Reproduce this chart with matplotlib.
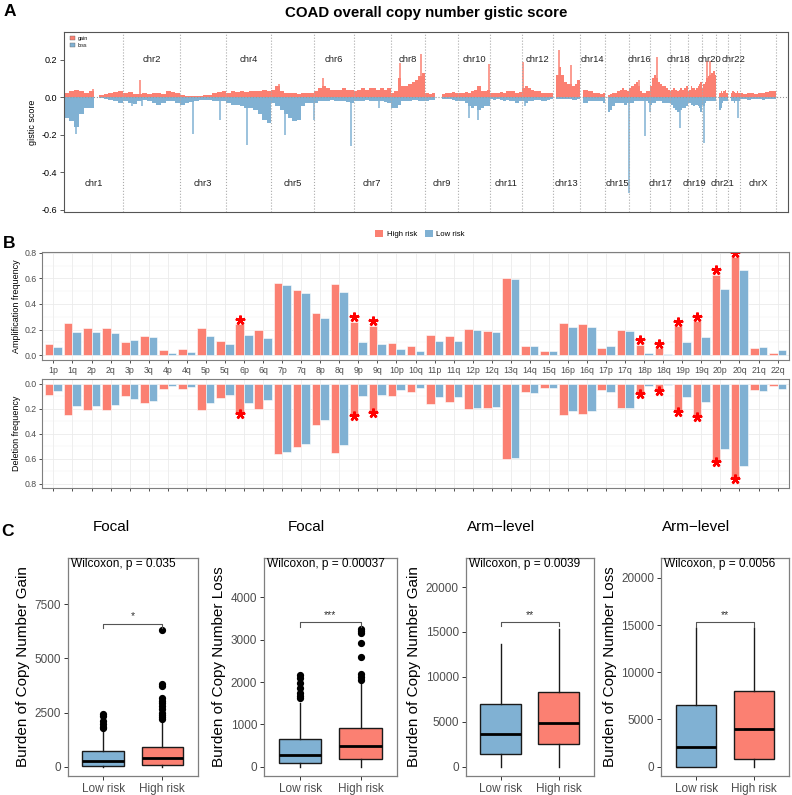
import numpy as np
import matplotlib.pyplot as plt
from matplotlib.patches import Patch
from matplotlib.ticker import FormatStrFormatter, MultipleLocator

plt.rcParams['font.family'] = ['Liberation Sans', 'DejaVu Sans']
plt.rcParams['axes.unicode_minus'] = False

W, H = 792, 795
RED = '#FB8072'
BLUE = '#80B1D3'

# ==============================================================================
# A: genome-wide gistic score (values read per chromosome, evenly spaced bins)
# ==============================================================================
chroms = [str(i) for i in range(1, 23)] + ['X']
chrom_len = [249.3, 243.2, 198.0, 191.2, 180.9, 171.1, 159.1, 146.4, 141.2, 135.5, 135.0,
             133.9, 115.2, 107.3, 102.5, 90.4, 81.2, 78.1, 59.1, 63.0, 48.1, 51.3, 155.3]

gain_bins = [
    [0.02, 0.03, 0.04, 0.03, 0.02, 0.03, 0, 0.01, 0.015, 0.02, 0.025, 0.03],
    [0.02, 0.025, 0.015, 0.015, 0.02, 0.015, 0.02, 0.02, 0.015, 0.03, 0.025, 0.02],
    [0.01, 0.005, 0.005, 0.005, 0.005, 0.01, 0.01, 0.02, 0.025, 0.03],
    [0.02, 0.03, 0.025, 0.03, 0.025, 0.03, 0.035, 0.03, 0.04, 0.03],
    [0.04, 0.06, 0.03, 0.02, 0.02, 0.02, 0.015, 0.02, 0.02, 0.02],
    [0.03, 0.05, 0.06, 0.05, 0.04, 0.04, 0.04, 0.05, 0.04, 0.04],
    [0.03, 0.04, 0.05, 0.04, 0.05, 0.05, 0.04, 0.05, 0.04, 0.05],
    [0.02, 0.03, 0.10, 0.06, 0.06, 0.07, 0.08, 0.09, 0.11, 0.13],
    [0.02, 0.015, 0.02, 0, 0, 0.015, 0.02, 0.02, 0.025, 0.02],
    [0.02, 0.02, 0.025, 0.02, 0.03, 0.04, 0.06, 0.03, 0.03, 0.04],
    [0.02, 0.02, 0.02, 0.025, 0.02, 0.03, 0.03, 0.035, 0.02, 0.025],
    [0.05, 0.06, 0.05, 0.04, 0.03, 0.03, 0.02, 0.02, 0.02, 0.02],
    [0, 0.12, 0.16, 0.12, 0.08, 0.07, 0.07, 0.06, 0.07, 0.09],
    [0, 0.04, 0.04, 0.035, 0.03, 0.02, 0.02, 0.02, 0.015, 0.02],
    [0, 0.01, 0.015, 0.02, 0.02, 0.03, 0.04, 0.05, 0.04, 0.03],
    [0.05, 0.06, 0.07, 0.08, 0.06, 0.03, 0.02, 0.02, 0.03, 0.03],
    [0.06, 0.10, 0.12, 0.10, 0.08, 0.07, 0.06, 0.06, 0.05, 0.04],
    [0.03, 0.04, 0.05, 0.04, 0.03, 0.04, 0.05, 0.04, 0.05, 0.06],
    [0.03, 0.04, 0.06, 0.05, 0.05, 0.04, 0.05, 0.06, 0.07, 0.08],
    [0.05, 0.07, 0.08, 0.10, 0.11, 0.12, 0.13, 0.13, 0.14, 0.12],
    [0, 0, 0.02, 0.03, 0.02, 0.03, 0.04, 0.02],
    [0, 0, 0.02, 0.03, 0.025, 0.02, 0.03, 0.02],
    [0.02, 0.015, 0.02, 0.02, 0.015, 0.02, 0.02, 0.025, 0.03, 0.035],
]
loss_bins = [
    [-0.11, -0.13, -0.16, -0.09, -0.06, -0.06, 0, -0.005, -0.01, -0.015, -0.02, -0.03],
    [-0.02, -0.03, -0.035, -0.02, -0.015, -0.02, -0.03, -0.04, -0.03, -0.02, -0.02, -0.03],
    [-0.04, -0.03, -0.025, -0.02, -0.015, -0.015, -0.015, -0.02, -0.02, -0.02],
    [-0.03, -0.04, -0.04, -0.05, -0.06, -0.06, -0.07, -0.09, -0.12, -0.14],
    [-0.03, -0.05, -0.07, -0.09, -0.11, -0.13, -0.12, -0.05, -0.03, -0.03],
    [-0.03, -0.02, -0.02, -0.02, -0.015, -0.02, -0.02, -0.02, -0.025, -0.03],
    [-0.02, -0.02, -0.02, -0.015, -0.02, -0.02, -0.02, -0.02, -0.025, -0.03],
    [-0.06, -0.06, -0.04, -0.02, -0.02, -0.02, -0.015, -0.015, -0.02, -0.02],
    [-0.02, -0.015, -0.015, 0, 0, -0.01, -0.01, -0.01, -0.015, -0.02],
    [-0.02, -0.02, -0.03, -0.05, -0.06, -0.05, -0.07, -0.06, -0.05, -0.05],
    [-0.01, -0.015, -0.01, -0.015, -0.02, -0.015, -0.02, -0.02, -0.03, -0.02],
    [-0.02, -0.03, -0.02, -0.02, -0.015, -0.015, -0.02, -0.02, -0.015, -0.01],
    [0, -0.01, -0.01, -0.01, -0.01, -0.01, -0.01, -0.015, -0.015, -0.01],
    [0, -0.03, -0.03, -0.02, -0.02, -0.02, -0.02, -0.02, -0.02, -0.03],
    [0, -0.08, -0.07, -0.05, -0.03, -0.03, -0.03, -0.03, -0.04, -0.03],
    [-0.03, -0.03, -0.02, -0.02, -0.02, -0.02, -0.02, -0.02, -0.02, -0.03],
    [-0.04, -0.03, -0.03, -0.02, -0.02, -0.02, -0.03, -0.03, -0.03, -0.03],
    [-0.03, -0.04, -0.06, -0.07, -0.08, -0.08, -0.07, -0.06, -0.06, -0.05],
    [-0.03, -0.03, -0.04, -0.04, -0.05, -0.04, -0.04, -0.05, -0.06, -0.08],
    [-0.04, -0.05, -0.03, -0.02, -0.02, -0.02, -0.02, -0.02, -0.02, -0.02],
    [0, 0, -0.07, -0.06, -0.03, -0.02, -0.02, -0.02],
    [0, 0, -0.02, -0.02, -0.03, -0.02, -0.02, -0.02],
    [-0.01, -0.01, -0.015, -0.01, -0.01, -0.01, -0.015, -0.01, -0.01, -0.01],
]

# narrow peaks: chromosome, position (Mb), score
gain_peak_chr = ['1', '2', '5', '6', '8', '8', '10', '12', '13', '13', '16', '17', '20', '20']
gain_peak_mb = [120, 73, 32, 38, 38, 127, 129, 4, 24, 75, 41, 29, 23, 37]
gain_peak_val = [0.042, 0.09, 0.07, 0.10, 0.18, 0.23, 0.175, 0.185, 0.25, 0.17, 0.09, 0.215, 0.19, 0.19]
loss_peak_chr = ['1', '2', '2', '3', '3', '4', '5', '6', '6', '7', '10', '10', '12', '15',
                 '16', '16', '18', '20', '22']
loss_peak_mb = [49, 40, 79, 57, 170, 88, 57, 2, 159, 109, 47, 83, 13, 100, 69, 89, 45, 11, 43]
loss_peak_val = [-0.195, -0.05, -0.05, -0.196, -0.12, -0.258, -0.2, -0.12, -0.26, -0.06,
                 -0.11, -0.12, -0.05, -0.51, -0.21, -0.08, -0.164, -0.247, -0.114]

# ==============================================================================
# B: arm-level frequencies
# ==============================================================================
arms = ['1p', '1q', '2p', '2q', '3p', '3q', '4p', '4q', '5p', '5q', '6p', '6q', '7p', '7q',
        '8p', '8q', '9p', '9q', '10p', '10q', '11p', '11q', '12p', '12q', '13q', '14q',
        '15q', '16p', '16q', '17p', '17q', '18p', '18q', '19p', '19q', '20p', '20q', '21q', '22q']
amp_high = [0.09, 0.25, 0.21, 0.21, 0.10, 0.15, 0.04, 0.045, 0.21, 0.11, 0.24, 0.20, 0.56,
            0.51, 0.33, 0.555, 0.26, 0.23, 0.096, 0.068, 0.158, 0.148, 0.203, 0.192, 0.605,
            0.068, 0.031, 0.25, 0.242, 0.052, 0.195, 0.08, 0.055, 0.226, 0.265, 0.63, 0.766,
            0.052, 0.02]
amp_low = [0.06, 0.18, 0.18, 0.17, 0.12, 0.14, 0.02, 0.025, 0.15, 0.09, 0.155, 0.13, 0.55,
           0.485, 0.29, 0.49, 0.10, 0.09, 0.047, 0.031, 0.109, 0.109, 0.195, 0.182, 0.595,
           0.073, 0.031, 0.22, 0.216, 0.068, 0.19, 0.015, 0.008, 0.106, 0.145, 0.52, 0.662,
           0.06, 0.039]
# the deletion panel shows the same bar heights as the amplification panel
del_high = list(amp_high)
del_low = list(amp_low)
sig_arms = ['6p', '9p', '9q', '18p', '18q', '19p', '19q', '20p', '20q']

# ==============================================================================
# C: burden boxplots  (whislo, q1, median, q3, whishi)
# ==============================================================================
groups = ['Low risk', 'High risk']
focal_gain_low = [0, 30, 276, 721, 1700]
focal_gain_high = [0, 77, 414, 890, 2100]
focal_gain_low_out = [1800, 1850, 1960, 2090, 2330, 2420]
focal_gain_high_out = [2200, 2300, 2400, 2500, 2650, 2800, 2950, 3050, 3170, 3710, 3800, 6300]
focal_loss_low = [0, 79, 276, 655, 1500]
focal_loss_high = [0, 174, 489, 907, 2000]
focal_loss_low_out = [1620, 1660, 1740, 1870, 1970, 2090, 2170]
focal_loss_high_out = [2050, 2110, 2190, 2600, 2920, 3150, 3200, 3250]
arm_gain_low = [0, 1375, 3605, 6950, 13680]
arm_gain_high = [0, 2490, 4830, 8360, 15310]
arm_loss_low = [0, 0, 2120, 6510, 14690]
arm_loss_high = [0, 850, 3965, 8035, 14690]
p_texts = ['Wilcoxon, p = 0.035', 'Wilcoxon, p = 0.00037', 'Wilcoxon, p = 0.0039', 'Wilcoxon, p = 0.0056']
sig_marks = ['*', '***', '**', '**']


def rect(l, t, r, b):
    return [l / W, 1 - b / H, (r - l) / W, (b - t) / H]


fig = plt.figure(figsize=(W / 100, H / 100), dpi=100)

# ------------------------------------------------------------------ panel A
ax = fig.add_axes(rect(64, 32, 788, 212))
offsets = np.concatenate([[0], np.cumsum(chrom_len)])
for i, L in enumerate(chrom_len):
    g = np.array(gain_bins[i])
    ax.stairs(g, offsets[i] + np.linspace(0, L, len(g) + 1), fill=True, color=RED, lw=0)
    lo = np.array(loss_bins[i])
    ax.stairs(lo, offsets[i] + np.linspace(0, L, len(lo) + 1), fill=True, color=BLUE, lw=0)
gx = [offsets[chroms.index(c)] + m for c, m in zip(gain_peak_chr, gain_peak_mb)]
ax.vlines(gx, 0, gain_peak_val, color=RED, lw=1.1)
lx = [offsets[chroms.index(c)] + m for c, m in zip(loss_peak_chr, loss_peak_mb)]
ax.vlines(lx, 0, loss_peak_val, color=BLUE, lw=1.1)

ax.axhline(0, color='#999999', ls=':', lw=0.8)
for e in offsets[1:]:
    ax.axvline(e, color='#AAAAAA', ls=':', lw=0.8)
mids = offsets[:-1] + np.array(chrom_len) / 2
for i, c in enumerate(chroms):
    ypos = -0.46 if i % 2 == 0 else 0.2
    ax.text(mids[i], ypos, 'chr' + c, ha='center', va='center', fontsize=6.8, color='#222222')

ax.set_xlim(-2.5, 3087)
ax.set_ylim(-0.613, 0.347)
ax.set_xticks([])
ax.set_yticks([-0.6, -0.4, -0.2, 0.0, 0.2])
ax.yaxis.set_major_formatter(FormatStrFormatter('%.1f'))
ax.tick_params(axis='y', labelsize=6.5, length=3, width=0.6, color='#444444', pad=2)
for s in ax.spines.values():
    s.set_color('#555555')
    s.set_linewidth(0.8)
ax.set_ylabel('gistic score', fontsize=6.5, labelpad=3)
ax.legend(handles=[Patch(fc=RED, ec='#666666', lw=0.3), Patch(fc=BLUE, ec='#666666', lw=0.3)],
          labels=['gain', 'loss'], loc='upper left', bbox_to_anchor=(0.002, 1.0), frameon=False,
          fontsize=3.8, handlelength=1.0, handleheight=0.8, handletextpad=0.6, labelspacing=0.3,
          borderpad=0.3)
fig.text(426 / W, 1 - 13 / H, 'COAD overall copy number gistic score', ha='center', va='center',
         fontsize=10.8, fontweight='bold')


# ------------------------------------------------------------------ panel B
def gg_bw(ax):
    for s in ax.spines.values():
        s.set_color('#7F7F7F')
        s.set_linewidth(0.8)
    ax.yaxis.set_minor_locator(MultipleLocator(0.1))
    ax.grid(True, which='major', color='#EBEBEB', lw=0.6)
    ax.grid(True, which='minor', axis='y', color='#F2F2F2', lw=0.35)
    ax.set_axisbelow(True)
    ax.tick_params(which='major', colors='#333333', labelcolor='#4D4D4D', length=2.5,
                   width=0.6, labelsize=6.3, pad=1.5)
    ax.tick_params(which='minor', length=0)


x = np.arange(1, len(arms) + 1)
bw = 0.45
sig_idx = np.array([arms.index(a) for a in sig_arms])

ax_amp = fig.add_axes(rect(42, 251.7, 789, 360))
ax_amp.bar(x - bw / 2, amp_high, bw, color=RED, ec='white', lw=0.4)
ax_amp.bar(x + bw / 2, amp_low, bw, color=BLUE, ec='white', lw=0.4)
ax_amp.plot(x[sig_idx] - bw / 2, np.array(amp_high)[sig_idx] + 0.035, ls='none',
            marker=(5, 2, 0), ms=7, mew=1.8, color='red')
ax_amp.set_xlim(0.4, len(arms) + 0.6)
ax_amp.set_ylim(-0.0385, 0.8085)
ax_amp.set_yticks([0, 0.2, 0.4, 0.6, 0.8])
ax_amp.yaxis.set_major_formatter(FormatStrFormatter('%.1f'))
ax_amp.set_xticks(x)
ax_amp.set_xticklabels(arms)
gg_bw(ax_amp)
ax_amp.set_ylabel('Amplification frequency', fontsize=6.5, labelpad=2)

ax_del = fig.add_axes(rect(42, 379, 789, 488))
ax_del.bar(x - bw / 2, del_high, bw, color=RED, ec='white', lw=0.4)
ax_del.bar(x + bw / 2, del_low, bw, color=BLUE, ec='white', lw=0.4)
ax_del.plot(x[sig_idx] - bw / 2, np.array(del_high)[sig_idx], ls='none',
            marker=(5, 2, 0), ms=7, mew=1.8, color='red')
ax_del.set_xlim(0.4, len(arms) + 0.6)
ax_del.set_ylim(0.835, -0.0385)
ax_del.set_yticks([0, 0.2, 0.4, 0.6, 0.8])
ax_del.yaxis.set_major_formatter(FormatStrFormatter('%.1f'))
ax_del.set_xticks(x)
ax_del.set_xticklabels([])
gg_bw(ax_del)
ax_del.set_ylabel('Deletion frequency', fontsize=6.5, labelpad=2)

fig.legend(handles=[Patch(fc=RED, ec='none'), Patch(fc=BLUE, ec='none')],
           labels=['High risk', 'Low risk'], loc='center', bbox_to_anchor=(420 / W, 1 - 234 / H),
           ncol=2, frameon=False, fontsize=5.6, handlelength=1.0, handleheight=1.0,
           columnspacing=1.0, handletextpad=0.5)


# ------------------------------------------------------------------ panel C
def box_panel(r, low, high, low_out, high_out, ylim, yticks, ylabel, title, title_x,
              ptxt, mark, bar_y, tick_y):
    ax = fig.add_axes(rect(*r))
    stats = []
    for vals, out in [(low, low_out), (high, high_out)]:
        stats.append(dict(whislo=vals[0], q1=vals[1], med=vals[2], q3=vals[3], whishi=vals[4],
                          fliers=out))
    bp = ax.bxp(stats, positions=[1, 2], widths=0.7, patch_artist=True, showcaps=False,
                boxprops=dict(lw=1.0, ec='#1A1A1A'),
                medianprops=dict(color='black', lw=2.0),
                whiskerprops=dict(color='#1A1A1A', lw=1.0),
                flierprops=dict(marker='o', mfc='black', mec='black', ms=4.2))
    for patch, col in zip(bp['boxes'], [BLUE, RED]):
        patch.set_facecolor(col)
    ax.plot([1, 1, 2, 2], [tick_y, bar_y, bar_y, tick_y], color='#555555', lw=0.8)
    ax.text(1.5, bar_y + (ylim[1] - ylim[0]) * 0.012, mark, ha='center', va='bottom',
            fontsize=7.5, color='#333333')
    ax.text(0.025, 0.972, ptxt, transform=ax.transAxes, ha='left', va='center', fontsize=8.6)
    ax.set_xlim(0.4, 2.6)
    ax.set_ylim(*ylim)
    ax.set_yticks(yticks)
    ax.set_xticks([1, 2])
    ax.set_xticklabels(groups)
    for s in ax.spines.values():
        s.set_color('#7F7F7F')
        s.set_linewidth(0.9)
    ax.tick_params(colors='#333333', labelcolor='#4D4D4D', labelsize=8.5, length=3, width=0.7,
                   pad=2)
    ax.set_ylabel(ylabel, fontsize=11, labelpad=3)
    fig.text(title_x / W, 1 - 527 / H, title, ha='center', va='center', fontsize=11)
    return ax


box_panel((67.7, 558, 197.7, 776), focal_gain_low, focal_gain_high, focal_gain_low_out,
          focal_gain_high_out, (-430, 9630), [0, 2500, 5000, 7500],
          'Burden of Copy Number Gain', 'Focal', 111, p_texts[0], sig_marks[0], 6600, 6400)
box_panel((264, 558, 396.7, 776), focal_loss_low, focal_loss_high, focal_loss_low_out,
          focal_loss_high_out, (-220, 4930), [0, 1000, 2000, 3000, 4000],
          'Burden of Copy Number Loss', 'Focal', 306, p_texts[1], sig_marks[1], 3410, 3310)
box_panel((465.7, 558, 593.7, 776), arm_gain_low, arm_gain_high, [], [],
          (-1040, 23230), [0, 5000, 10000, 15000, 20000],
          'Burden of Copy Number Gain', 'Arm\u2212level', 501, p_texts[2], sig_marks[2], 16060, 15610)
box_panel((661.3, 558, 789, 776), arm_loss_low, arm_loss_high, [], [],
          (-990, 22120), [0, 5000, 10000, 15000, 20000],
          'Burden of Copy Number Loss', 'Arm\u2212level', 696, p_texts[3], sig_marks[3], 15290, 14800)

for lab, (px, py) in zip('ABC', [(10, 12), (9, 244), (8, 531)]):
    fig.text(px / W, 1 - py / H, lab, ha='center', va='center', fontsize=12.5, fontweight='bold')

fig.savefig('out.png', dpi=100)
